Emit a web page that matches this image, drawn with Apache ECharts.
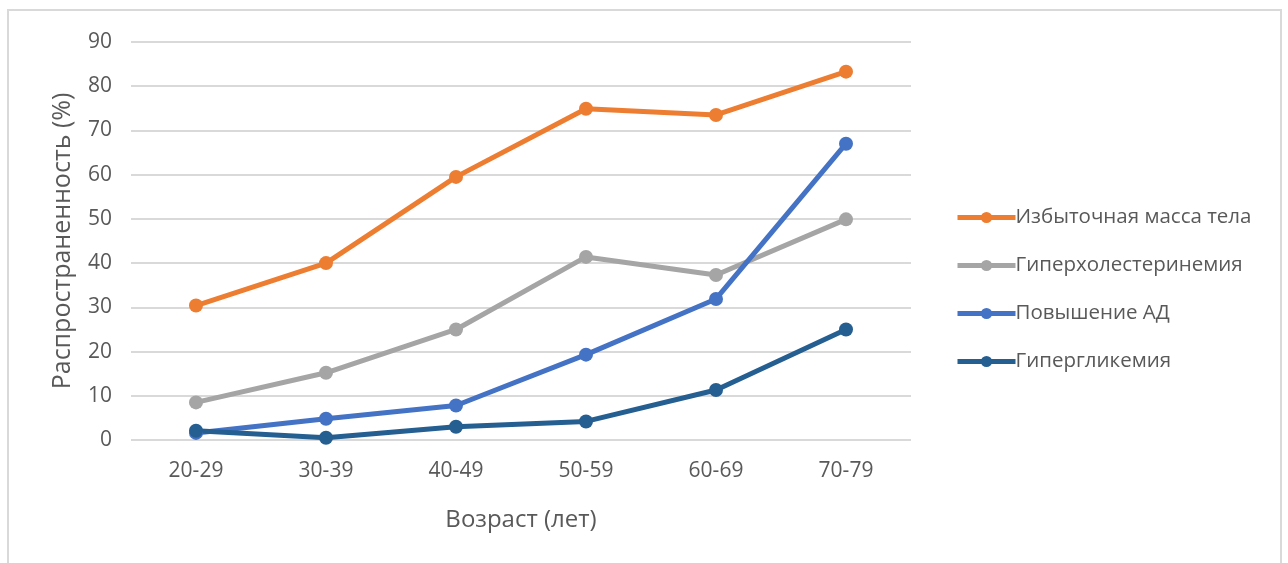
<!DOCTYPE html>
<html>
<head>
<meta charset="utf-8">
<script src="https://cdn.jsdelivr.net/npm/echarts@6/dist/echarts.min.js"></script>
<style>
  html, body { margin: 0; padding: 0; background: #fff; }
  #main { width: 1288px; height: 563px; }
</style>
</head>
<body>
<div id="main"></div>
<script>
var ages = ['20-29', '30-39', '40-49', '50-59', '60-69', '70-79'];
var names = ['Избыточная масса тела', 'Гиперхолестеринемия', 'Повышение АД', 'Гипергликемия'];
var colors = ['#ed7d31', '#a5a5a5', '#4472c4', '#255e91'];

var overweight = [30.4, 40, 59.5, 74.9, 73.5, 83.3];
var cholesterol = [8.5, 15.2, 25, 41.4, 37.3, 49.9];
var pressure = [1.6, 4.8, 7.8, 19.3, 31.9, 67];
var glucose = [2.1, 0.5, 3, 4.2, 11.3, 25];

var values = [overweight, cholesterol, pressure, glucose];

var font = 'Open Sans, Noto Sans, sans-serif';

var series = names.map(function (n, i) {
    return {
        name: n,
        type: 'line',
        data: values[i],
        symbol: 'circle',
        symbolSize: 14,
        color: colors[i],
        lineStyle: { width: 5, color: colors[i] },
        itemStyle: { color: colors[i] },
        animation: false
    };
});

var option = {
    backgroundColor: '#fff',
    graphic: [{
        type: 'rect',
        shape: { x: 8, y: 10, width: 1273, height: 600 },
        style: { fill: 'none', stroke: '#d9d9d9', lineWidth: 2 },
        silent: true
    }],
    grid: { left: 131, top: 42, width: 780, height: 398 },
    legend: {
        orient: 'vertical',
        left: 950,
        top: 202,
        itemGap: 27,
        itemWidth: 58,
        itemHeight: 14,
        lineStyle: { width: 5 },
        textStyle: { fontFamily: font, fontSize: 20.5, color: '#595959', padding: [0, 0, 0, -5] },
        data: names
    },
    xAxis: {
        type: 'category',
        data: ages,
        boundaryGap: true,
        axisLine: { show: false },
        axisTick: { show: false },
        axisLabel: { fontFamily: font, fontSize: 21, color: '#595959', margin: 21 },
        name: 'Возраст (лет)',
        nameLocation: 'middle',
        nameGap: 68,
        nameTextStyle: { fontFamily: font, fontSize: 24, color: '#595959' }
    },
    yAxis: {
        type: 'value',
        min: 0,
        max: 90,
        interval: 10,
        axisLine: { show: false },
        axisTick: { show: false },
        splitLine: { lineStyle: { color: '#d9d9d9', width: 2 } },
        axisLabel: { fontFamily: font, fontSize: 21, color: '#595959', margin: 19 },
        name: 'Распространенность (%)',
        nameLocation: 'middle',
        nameGap: 56,
        nameTextStyle: { fontFamily: font, fontSize: 25, color: '#595959' }
    },
    series: series
};

var myChart = echarts.init(document.getElementById('main'));
myChart.setOption(option);
</script>
</body>
</html>
